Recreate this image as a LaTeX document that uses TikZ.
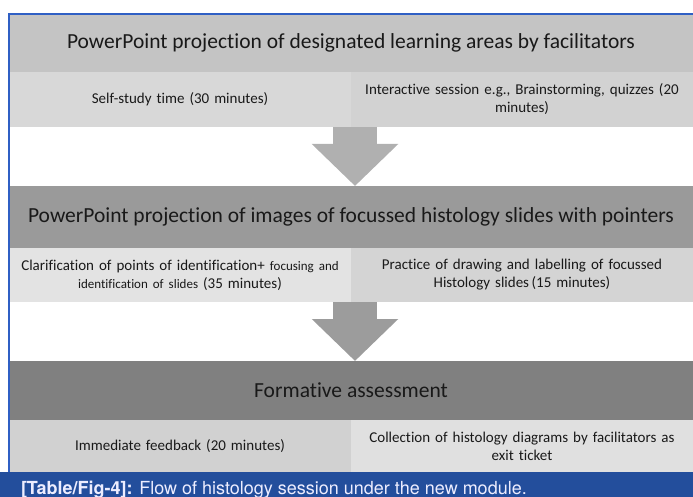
\documentclass[tikz,border=0pt]{standalone}
\usepackage{fontspec}
\setmainfont[Ligatures=NoCommon]{Carlito}
\newfontfamily\capfont{TeX Gyre Heros}
\usetikzlibrary{positioning,arrows.meta}

\definecolor{frameblue}{HTML}{2F5FC4}
\definecolor{capblue}{HTML}{234E9C}
\definecolor{hdA}{HTML}{C4C4C4}
\definecolor{hdB}{HTML}{9A9A9A}
\definecolor{hdC}{HTML}{808080}
\definecolor{cellL1}{HTML}{D8D8D8}
\definecolor{cellR1}{HTML}{D2D2D2}
\definecolor{cellL2}{HTML}{E3E3E3}
\definecolor{cellR2}{HTML}{D4D4D4}
\definecolor{cellL3}{HTML}{D1D1D1}
\definecolor{cellR3}{HTML}{E0E0E0}
\definecolor{arrA}{HTML}{B0B0B0}
\definecolor{arrB}{HTML}{9C9C9C}

\begin{document}
\begin{tikzpicture}[x=1pt,y=-1pt,node distance=0pt,
  every node/.style={inner sep=0pt,outer sep=0pt,align=center,text=black!90},
  band/.style={minimum width=684pt,font=\fontsize{21.5}{24}\selectfont},
  cell/.style={minimum width=342pt,text width=330pt,font=\fontsize{15}{18}\selectfont},
  flow/.style={line width=44pt,-{Triangle[length=42pt,width=84pt]}}]

\useasboundingbox (0,0) rectangle (693,497);

% first block
\node[band,minimum height=58pt,fill=hdA,anchor=north west] (h1) at (9,14)
  {PowerPoint projection of designated learning areas by facilitators};
\node[cell,minimum height=55pt,fill=cellL1,below right=0pt and 0pt of h1.south west] (l1)
  {Self-study time (30 minutes)};
\node[cell,minimum height=55pt,fill=cellR1,right=of l1] (r1)
  {Interactive session e.g., Brainstorming, quizzes (20\\ minutes)};

% second block
\node[band,minimum height=62pt,fill=hdB,below right=59pt and 0pt of l1.south west] (h2)
  {PowerPoint projection of images of focussed histology slides with pointers};
\node[cell,minimum height=54pt,fill=cellL2,below right=0pt and 0pt of h2.south west] (l2)
  {Clarification of points of identification+ {\fontsize{13}{18}\selectfont focusing and\\
   identification of slides} (35 minutes)};
\node[cell,minimum height=54pt,fill=cellR2,right=of l2] (r2)
  {Practice of drawing and labelling of focussed\\ Histology slides\,(15 minutes)};

% third block
\node[band,minimum height=59pt,fill=hdC,below right=59pt and 0pt of l2.south west] (h3)
  {Formative assessment};
\node[cell,minimum height=52pt,fill=cellL3,below right=0pt and 0pt of h3.south west] (l3)
  {Immediate feedback (20 minutes)};
\node[cell,minimum height=52pt,fill=cellR3,right=of l3] (r3)
  {Collection of histology diagrams by facilitators as\\ exit ticket};

% down arrows between the blocks
\draw[flow,arrA] ([xshift=4pt]l1.south east) -- ([xshift=4pt]l1.south east |- h2.north);
\draw[flow,arrB] ([xshift=4pt]l2.south east) -- ([xshift=4pt]l2.south east |- h3.north);

% blue frame and caption strip
\draw[frameblue,line width=1.6pt] (h1.north east) -- (h1.north west) -- (l3.south west);
\node[fill=capblue,minimum width=693pt,minimum height=25pt,anchor=north west] (cap) at (0,472) {};
\node[anchor=base west,text=white!93!blue,font=\capfont\fontsize{18}{20}\selectfont]
  (captxt) at ([xshift=21pt,yshift=3pt]cap.south west)
  {\textbf{[Table/Fig-4]:} Flow of histology session under the new module.};
\end{tikzpicture}
\end{document}
